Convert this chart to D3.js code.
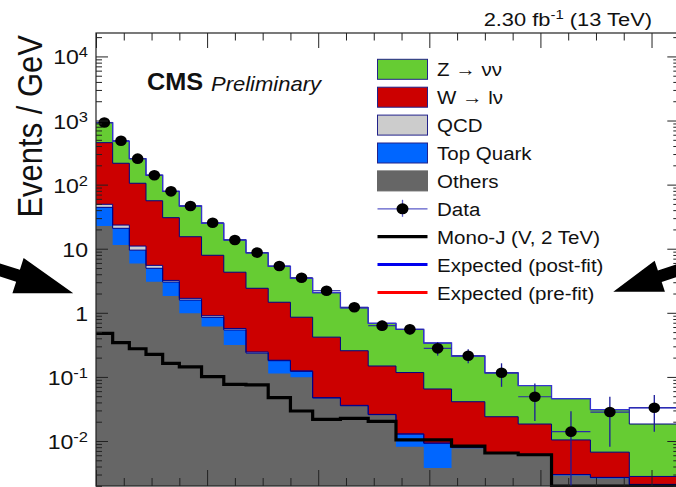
<!DOCTYPE html>
<html>
<head>
<meta charset="utf-8">
<script src="https://cdn.jsdelivr.net/npm/d3@7"></script>
<style>
body { margin: 0; background: #fff; }
svg { display: block; font-family: "Liberation Sans", Arial, Helvetica, sans-serif; }
</style>
</head>
<body>
<svg id="chart" width="676" height="487"></svg>
<script>
// MET bin edges (GeV)
const binEdges = [200, 230, 260, 290, 320, 350, 390, 430, 470, 510, 550, 590, 640, 690, 740, 790, 840, 900, 960, 1020, 1090, 1160, 1250];

// backgrounds, events / GeV per bin (not stacked)
const others   = [22.6, 11.4, 5.9, 3.05, 1.83, 0.98, 0.61, 0.315, 0.233, 0.113, 0.099, 0.0463, 0.0352, 0.0255, 0.0081, 0.0038, 0.0077, 0.0063, 0.0060, 0.0029, 0.0026, 0.0021];
const topQuark = [21.6, 9.4, 3.6, 1.9, 1.19, 0.6, 0.24, 0.225, 0.003, 0.066, 0.023, 0.0007, 0.0003, 0.0003, 0.0047, 0.0054, 0.0002, 0.0001, 0.0001, 0.0001, 0.0001, 0];
const qcd      = [5.1, 2.6, 1.5, 0.55, 0.18, 0.1, 0.05, 0.03, 0.009, 0.003, 0.002, 0.0005, 0.0005, 0.0002, 0.0001, 0.0001, 0.0001, 0.0001, 0.0001, 0, 0, 0];
const wlnu     = [402, 192, 94, 50.5, 27.3, 13.7, 7.0, 3.73, 2.17, 1.28, 0.73, 0.37, 0.22, 0.122, 0.104, 0.0555, 0.033, 0.0174, 0.0122, 0.0074, 0.004, 0.0007];
const znunu    = [473, 258, 149, 84, 48, 31, 17, 9.4, 6.2, 3.84, 2.6, 1.64, 0.94, 0.54, 0.433, 0.273, 0.171, 0.092, 0.055, 0.0353, 0.0241, 0.0156];

// expected total after the fit
const postFit = [924, 473, 254, 140, 78.5, 46.4, 24.9, 13.7, 8.6, 5.3, 3.45, 2.06, 1.2, 0.686, 0.55, 0.338, 0.212, 0.116, 0.073, 0.0457, 0.0308, 0.033];

// data with error band
const dataVal = [930, 484, 254, 140, 78.5, 46.4, 25.4, 13.7, 8.7, 5.37, 3.53, 2.21, 1.22, 0.63, 0.552, 0.279, 0.214, 0.116, 0.049, 0.0140, 0.0283, 0.033];
const dataHi  = [960, 500, 264, 146, 82.5, 49.5, 27.4, 14.9, 9.2, 5.75, 3.8, 2.43, 1.38, 0.75, 0.66, 0.35, 0.27, 0.163, 0.079, 0.029, 0.049, 0.052];
const dataLo  = [900, 468, 244, 134, 74.5, 43.3, 23.4, 12.5, 8.2, 5.0, 3.26, 1.99, 1.06, 0.52, 0.46, 0.215, 0.163, 0.070, 0.0205, 0.0005, 0.0081, 0.0139];

// mono-jet vector mediator, 2 TeV
const signal = [0.479, 0.342, 0.275, 0.225, 0.163, 0.143, 0.101, 0.0767, 0.0749, 0.0474, 0.0294, 0.0218, 0.0226, 0.0203, 0.0104, 0.0104, 0.0083, 0.0065, 0.0061, 0.0015, 0.0015, 0.0015];

// y tick labels (base, exponent)
const yTickVals = [0.01, 0.1, 1, 10, 100, 1000, 10000];
const yTickBase = ['10', '10', '1', '10', '10', '10', '10'];
const yTickExp  = ['-2', '-1', '', '', '2', '3', '4'];

const legendLabels = ['Z \u2192 \u03bd\u03bd', 'W \u2192 l\u03bd', 'QCD', 'Top Quark', 'Others', 'Data', 'Mono-J (V, 2 TeV)', 'Expected (post-fit)', 'Expected (pre-fit)'];

const keys = ['others', 'top', 'qcd', 'wlnu', 'znunu'];
const fillCol = {others: '#666666', top: '#0066ff', qcd: '#cccccc', wlnu: '#cc0000', znunu: '#66cc33'};
const navy = '#000088';

const svg = d3.select('#chart');

const x = d3.scaleLinear().domain([200, 1250]).range([96, 679.3]);
const y = d3.scaleLog().domain([0.001986, 23200]).range([486, 33]).clamp(true);
const yBottom = y.range()[0];
const yv = v => v > 0 ? y(v) : yBottom;

const bins = others.map((d, i) => ({
    x0: binEdges[i], x1: binEdges[i + 1],
    others: d, top: topQuark[i], qcd: qcd[i], wlnu: wlnu[i], znunu: znunu[i]
}));
const series = d3.stack().keys(keys)(bins);

// points for step drawing: one per bin start + closing point at the last edge
const stepPts = vals => vals.map((v, i) => [binEdges[i], v]).concat([[binEdges[binEdges.length - 1], vals[vals.length - 1]]]);

const stepArea = d3.area()
    .x(d => x(d[0]))
    .y0(yBottom)
    .y1(d => yv(d[1]))
    .curve(d3.curveStepAfter);
const stepLine = d3.line()
    .x(d => x(d[0]))
    .y(d => yv(d[1]))
    .curve(d3.curveStepAfter);

const plot = svg.append('g');

// filled cumulative histograms, top of stack first (like THStack)
series.slice().reverse().forEach(s => {
    const cum = s.map(d => d[1]);
    plot.append('path')
        .attr('d', stepArea(stepPts(cum)))
        .attr('fill', fillCol[s.key]);
});
// outlines
series.filter(s => s.key !== 'others').forEach(s => {
    plot.append('path')
        .attr('d', stepLine(stepPts(s.map(d => d[1]))))
        .attr('fill', 'none')
        .attr('stroke', navy)
        .attr('stroke-width', 1);
});

// signal
plot.append('path')
    .attr('d', stepLine(stepPts(signal)))
    .attr('fill', 'none')
    .attr('stroke', '#000')
    .attr('stroke-width', 3.2);

// post-fit expectation
plot.append('path')
    .attr('d', stepLine(stepPts(postFit)))
    .attr('fill', 'none')
    .attr('stroke', '#3535d0')
    .attr('stroke-width', 1.3);

// data
const dat = dataVal.map((v, i) => ({v, hi: dataHi[i], lo: dataLo[i], x0: binEdges[i], x1: binEdges[i + 1]}));
const dg = plot.append('g');
dg.selectAll('line.h').data(dat).enter().append('line')
    .attr('class', 'h')
    .attr('x1', d => x(d.x0)).attr('x2', d => x(d.x1))
    .attr('y1', d => y(d.v)).attr('y2', d => y(d.v))
    .attr('stroke', '#2a2aa8').attr('stroke-width', 1.2);
dg.selectAll('line.v').data(dat).enter().append('line')
    .attr('class', 'v')
    .attr('x1', d => x((d.x0 + d.x1) / 2)).attr('x2', d => x((d.x0 + d.x1) / 2))
    .attr('y1', d => yv(d.lo)).attr('y2', d => y(d.hi))
    .attr('stroke', '#1b1b9a').attr('stroke-width', 1.3);
dg.selectAll('ellipse').data(dat).enter().append('ellipse')
    .attr('cx', d => x((d.x0 + d.x1) / 2))
    .attr('cy', d => y(d.v))
    .attr('rx', 5.8).attr('ry', 5.3)
    .attr('fill', '#000');

// axes (ticks only, ROOT style, on every side)
const isMajor = v => Math.abs(Math.log10(v) - Math.round(Math.log10(v))) < 1e-9;
const yAll = y.ticks();
const yMinor = yAll.filter(v => !isMajor(v));
const xMajor = d3.range(200, 1251, 200);
const xMinor = d3.range(200, 1251, 50).filter(v => (v - 200) % 200 !== 0);

const axes = svg.append('g').attr('color', '#222');
const noDomain = g => g.select('.domain').remove();

axes.append('g').attr('transform', 'translate(96,0)')
    .call(d3.axisRight(y).tickValues(yTickVals).tickSize(12).tickFormat(''))
    .call(noDomain);
axes.append('g').attr('transform', 'translate(96,0)')
    .call(d3.axisRight(y).tickValues(yMinor).tickSize(6).tickFormat(''))
    .call(noDomain);
axes.append('g').attr('transform', 'translate(679.3,0)')
    .call(d3.axisLeft(y).tickValues(yTickVals).tickSize(12).tickFormat(''))
    .call(noDomain);
axes.append('g').attr('transform', 'translate(679.3,0)')
    .call(d3.axisLeft(y).tickValues(yMinor).tickSize(6).tickFormat(''))
    .call(noDomain);
axes.append('g').attr('transform', 'translate(0,33)')
    .call(d3.axisBottom(x).tickValues(xMajor).tickSize(15).tickFormat(''))
    .call(noDomain);
axes.append('g').attr('transform', 'translate(0,33)')
    .call(d3.axisBottom(x).tickValues(xMinor).tickSize(7.5).tickFormat(''))
    .call(noDomain);
axes.append('g').attr('transform', 'translate(0,486)')
    .call(d3.axisTop(x).tickValues(xMajor).tickSize(16).tickFormat(''))
    .call(noDomain);
axes.append('g').attr('transform', 'translate(0,486)')
    .call(d3.axisTop(x).tickValues(xMinor).tickSize(8).tickFormat(''))
    .call(noDomain);
axes.selectAll('.tick line').attr('stroke-width', 1);

svg.append('rect')
    .attr('x', 96).attr('y', 33)
    .attr('width', x.range()[1] - 96).attr('height', yBottom - 33)
    .attr('fill', 'none').attr('stroke', '#222').attr('stroke-width', 1.2);

// text drawn slightly wider than tall, like the source
const stext = (tx, ty, k) => svg.append('g')
    .attr('transform', `translate(${tx},${ty}) scale(${k},1)`)
    .append('text');

// y tick labels
yTickVals.forEach((v, i) => {
    const t = stext(88, y(v) + 8, 1.1)
        .attr('text-anchor', 'end')
        .attr('font-size', 21)
        .attr('fill', '#111');
    t.append('tspan').text(yTickBase[i]);
    if (yTickExp[i]) {
        t.append('tspan').attr('font-size', 15).attr('dy', -7).text(yTickExp[i]);
    }
});

// y axis title
svg.append('text')
    .attr('transform', 'translate(42,35) scale(1.13,1) rotate(-90)')
    .attr('text-anchor', 'end')
    .attr('font-size', 31)
    .attr('fill', '#111')
    .text('Events / GeV');

// lumi label
const lumi = stext(652, 26, 1.15).attr('text-anchor', 'end').attr('font-size', 19).attr('fill', '#111');
lumi.append('tspan').text('2.30 fb');
lumi.append('tspan').attr('font-size', 13).attr('dy', -7).text('-1');
lumi.append('tspan').attr('dy', 7).text(' (13 TeV)');

// CMS Preliminary
stext(147, 89.5, 1.1).attr('font-size', 23).attr('font-weight', 'bold').attr('fill', '#111').text('CMS');
stext(211, 90.5, 1.1).attr('font-size', 20).attr('font-style', 'italic').attr('fill', '#111').text('Preliminary');

// legend
const lg = svg.append('g');
const rowY = i => 69.3 + i * 27.9;
const boxKeys = ['znunu', 'wlnu', 'qcd', 'top', 'others'];
boxKeys.forEach((k, i) => {
    lg.append('rect')
        .attr('x', 377.5).attr('y', rowY(i) - 10)
        .attr('width', 50).attr('height', 20)
        .attr('fill', fillCol[k])
        .attr('stroke', k === 'others' ? fillCol[k] : '#22228a')
        .attr('stroke-width', 1);
});
// data marker
lg.append('line').attr('x1', 377.5).attr('x2', 427.5).attr('y1', rowY(5)).attr('y2', rowY(5))
    .attr('stroke', '#5a5ac8').attr('stroke-width', 1.3);
lg.append('line').attr('x1', 402.5).attr('x2', 402.5).attr('y1', rowY(5) - 9).attr('y2', rowY(5) + 8)
    .attr('stroke', '#5a5ac8').attr('stroke-width', 1.3);
lg.append('ellipse').attr('cx', 402.5).attr('cy', rowY(5)).attr('rx', 6).attr('ry', 5.5).attr('fill', '#000');
// line entries
[['#000', 3.2], ['#0000ee', 3], ['#ff0000', 3]].forEach((s, j) => {
    lg.append('line').attr('x1', 377.5).attr('x2', 427.5)
        .attr('y1', rowY(6 + j)).attr('y2', rowY(6 + j))
        .attr('stroke', s[0]).attr('stroke-width', s[1]);
});
legendLabels.forEach((lab, i) => {
    stext(437, rowY(i) + 7, 1.08).attr('font-size', 19).attr('fill', '#111').text(lab);
});

// arrows
const arrow = (tipX, tipY, ux, uy, headLen, headHalf, shaftLen, shaftHalf) => {
    const nx = -uy, ny = ux;
    const bx = tipX - ux * headLen, by = tipY - uy * headLen;
    const ex = bx - ux * shaftLen, ey = by - uy * shaftLen;
    const pts = [
        [tipX, tipY],
        [bx + nx * headHalf, by + ny * headHalf],
        [bx + nx * shaftHalf, by + ny * shaftHalf],
        [ex + nx * shaftHalf, ey + ny * shaftHalf],
        [ex - nx * shaftHalf, ey - ny * shaftHalf],
        [bx - nx * shaftHalf, by - ny * shaftHalf],
        [bx - nx * headHalf, by - ny * headHalf]
    ];
    svg.append('path').attr('d', 'M' + pts.map(p => p.join(',')).join('L') + 'Z').attr('fill', '#000');
};
arrow(73.3, 293.3, 0.953, 0.303, 58, 18.5, 40, 6.2);
arrow(613.3, 291.7, -0.949, 0.315, 49, 16.3, 40, 6);
</script>
</body>
</html>
